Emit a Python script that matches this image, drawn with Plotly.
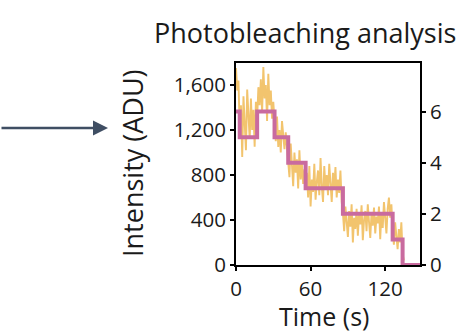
import plotly.graph_objects as go

# Data
intensity = [1750, 1550, 1640,
             1180, 1420, 960, 1500, 1250, 1020, 1560, 1300, 1120, 1480, 1200, 1380, 1050, 1450,
             1300, 1580, 1420, 1650, 1350, 1760, 1480, 1600, 1280, 1700, 1420, 1550, 1300, 1450,
             1250, 1100, 1320, 1050, 1200, 1000, 1280, 1120, 1030, 1180, 1060,
             950, 780, 1080, 860, 700, 1000, 820, 940, 680, 1020, 760, 900, 720, 850,
             700, 820, 600, 880, 520, 760, 650, 900, 580, 740, 840, 620, 950, 700, 560,
             880, 680, 800, 620, 900, 740, 560, 820, 690, 870, 600, 760, 640, 840, 560,
             460, 300, 520, 380, 250, 480, 340, 540, 200, 420, 320, 500, 260, 450, 360,
             530, 220, 400, 480, 300, 540, 380, 240, 460, 350, 510, 280, 430, 370, 520,
             230, 470, 330, 560, 400, 280, 500, 600, 420, 540,
             300, 180, 380, 250, 140, 320, 200, 380,
             100, 40]
time_s = list(range(len(intensity)))

step_times = [0, 3, 17, 31, 42, 56, 86, 126, 134, 148]
step_levels = [6, 5, 6, 5, 4, 3, 2, 1, 0, 0]

left_ticks = [0, 400, 800, 1200, 1600]
right_ticks = [0, 2, 4, 6]
x_ticks = [0, 60, 120]

FONT = "Open Sans"

fig = go.Figure()
fig.add_trace(go.Scatter(x=time_s, y=intensity, mode="lines",
                         line=dict(color="#F2C46E", width=1.9), yaxis="y", showlegend=False))
fig.add_trace(go.Scatter(x=step_times, y=step_levels, mode="lines",
                         line=dict(color="#C96B9F", width=4, shape="hv"), yaxis="y2",
                         showlegend=False))

axis_common = dict(showline=True, linecolor="black", linewidth=2, ticks="outside",
                   tickcolor="black", tickwidth=1.5, ticklen=4, showgrid=False, zeroline=False,
                   tickfont=dict(family=FONT, size=20.5, color="#1a1a1a"))

fig.update_layout(
    width=473, height=333,
    margin=dict(l=236, r=53, t=63, b=68),
    paper_bgcolor="white", plot_bgcolor="white",
    xaxis=dict(range=[0, 148], tickvals=x_ticks, mirror=True, **axis_common),
    yaxis=dict(range=[0, 1795], tickvals=left_ticks, tickformat=",", **axis_common),
    yaxis2=dict(range=[0, 7.9], tickvals=right_ticks, overlaying="y", side="right", **axis_common),
    annotations=[
        dict(text="Photobleaching analysis", xref="paper", yref="paper",
             x=(305 - 236) / 184, y=(265 - 32) / 202, showarrow=False,
             xanchor="center", yanchor="middle", font=dict(family=FONT, size=27, color="#1a1a1a")),
        dict(text="Intensity (ADU)", xref="paper", yref="paper", textangle=-90,
             x=(132 - 236) / 184, y=(265 - 163) / 202, showarrow=False,
             xanchor="center", yanchor="middle", font=dict(family=FONT, size=27, color="#1a1a1a")),
        dict(text="Time (s)", xref="paper", yref="paper",
             x=(324 - 236) / 184, y=(265 - 316) / 202, showarrow=False,
             xanchor="center", yanchor="middle", font=dict(family=FONT, size=25, color="#1a1a1a")),
        dict(text="", xref="paper", yref="paper", x=(108 - 236) / 184, y=(265 - 128) / 202,
             ax=-108, ay=0, showarrow=True, arrowhead=2, arrowsize=1.2, arrowwidth=2.5,
             arrowcolor="#3F4E63"),
    ],
)

fig.write_html("out.html")
